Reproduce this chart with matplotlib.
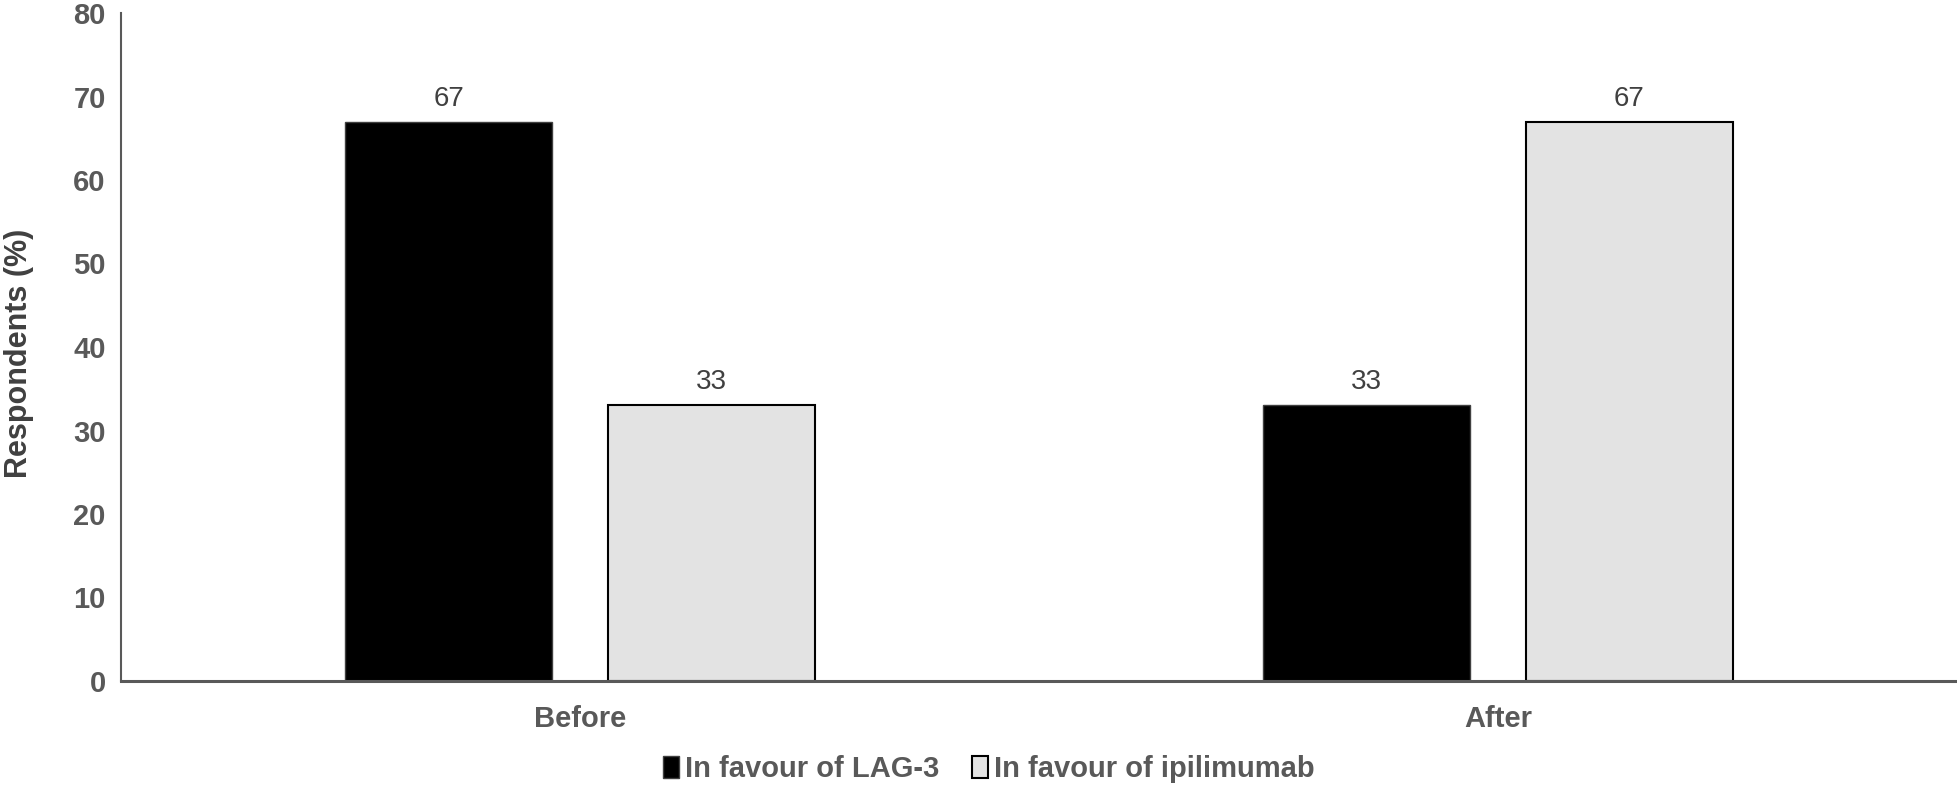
import numpy as np
import matplotlib.pyplot as plt

plt.rcParams['font.family'] = ['Liberation Sans', 'DejaVu Sans']

categories = ["Before", "After"]
lag3 = [67, 33]
ipi = [33, 67]
series_names = ["In favour of LAG-3", "In favour of ipilimumab"]
yticks = [0, 10, 20, 30, 40, 50, 60, 70, 80]

grey = "#595959"

fig = plt.figure(figsize=(19.58, 7.86), dpi=100)
ax = fig.add_axes([121 / 1958, 1 - 681 / 786, (1957 - 121) / 1958, (681 - 13) / 786])

x = np.arange(len(categories))
w = 0.225
off = 0.143
b1 = ax.bar(x - off, lag3, w, color="black", edgecolor="#404040", linewidth=1, label=series_names[0])
b2 = ax.bar(x + off, ipi, w, color="#e3e3e3", edgecolor="black", linewidth=1.5, label=series_names[1])

for bars in (b1, b2):
    for r in bars:
        ax.text(r.get_x() + r.get_width() / 2, r.get_height() + 1.2, f"{r.get_height():g}",
                ha="center", va="bottom", fontsize=20, color="#404040")

ax.set_xlim(-0.5, 1.5)
ax.set_ylim(0, 80)
ax.set_yticks(yticks)
ax.set_xticks(x)
ax.set_xticklabels(categories)

for s in ("top", "right"):
    ax.spines[s].set_visible(False)
ax.spines["left"].set_color(grey)
ax.spines["left"].set_linewidth(1.5)
ax.spines["bottom"].set_color(grey)
ax.spines["bottom"].set_linewidth(2.2)

ax.tick_params(axis="y", length=0, pad=11, labelsize=21, labelcolor=grey)
ax.tick_params(axis="x", length=0, pad=17, labelsize=21, labelcolor=grey)
for lab in ax.get_xticklabels() + ax.get_yticklabels():
    lab.set_fontweight("bold")

ax.set_ylabel("Respondents (%)", fontsize=22, fontweight="bold", color="#404040")
ax.yaxis.set_label_coords(-0.0475, 0.49)

leg = fig.legend(handles=[b1, b2], loc="center", bbox_to_anchor=(0.505, 1 - 769 / 786), ncol=2,
                 frameon=False, fontsize=21, handlelength=0.55, handleheight=0.8,
                 handletextpad=0.2, columnspacing=1.1)
for t in leg.get_texts():
    t.set_fontweight("bold")
    t.set_color(grey)

fig.savefig("out.png", dpi=100)
